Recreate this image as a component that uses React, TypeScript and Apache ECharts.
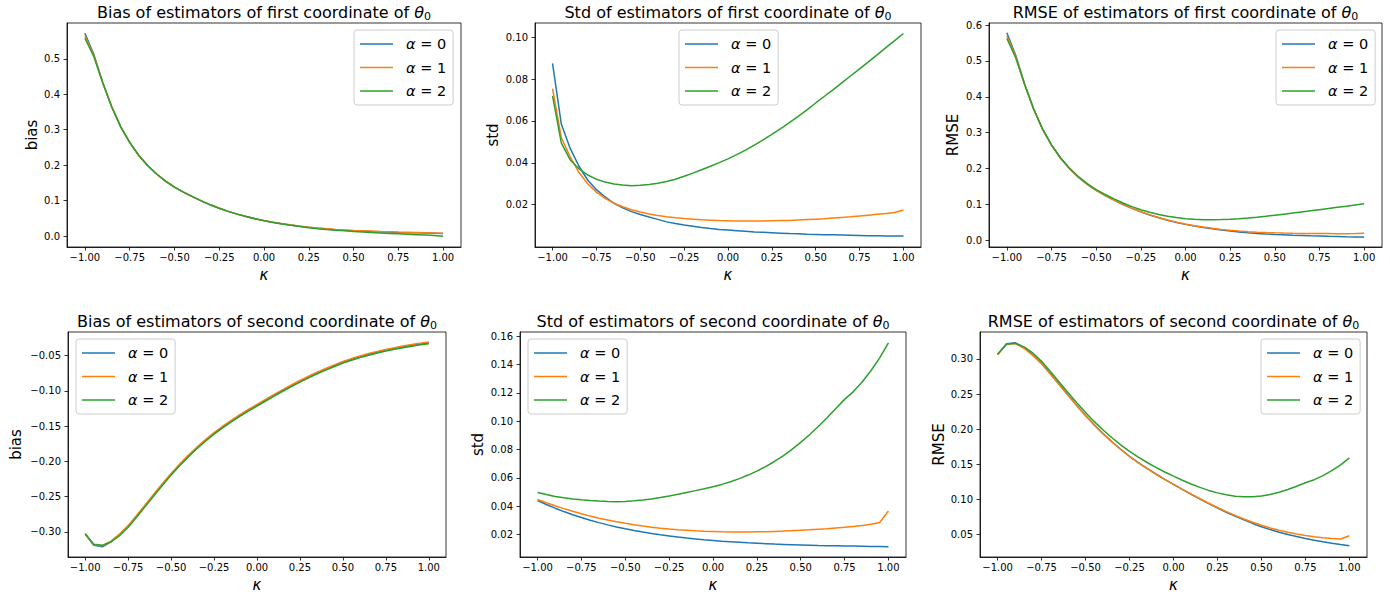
import React, { useEffect, useRef } from "react";
import * as echarts from "echarts";

// kappa grid
const KAPPA = [-1, -0.95, -0.9, -0.85, -0.8, -0.75, -0.7, -0.65, -0.6, -0.55, -0.5, -0.45, -0.4, -0.35, -0.3, -0.25, -0.2, -0.15, -0.1, -0.05, 0, 0.05, 0.1, 0.15, 0.2, 0.25, 0.3, 0.35, 0.4, 0.45, 0.5, 0.55, 0.6, 0.65, 0.7, 0.75, 0.8, 0.85, 0.9, 0.95, 1];

const SERIES_NAMES = ["α = 0", "α = 1", "α = 2"];

// first coordinate: bias
const BIAS1_A0 = [0.572, 0.512, 0.432, 0.364, 0.308, 0.264, 0.228, 0.199, 0.175, 0.155, 0.138, 0.124, 0.111, 0.099, 0.088, 0.0782, 0.0695, 0.0618, 0.055, 0.0489, 0.0434, 0.0387, 0.0345, 0.0308, 0.0275, 0.0244, 0.0219, 0.0196, 0.0178, 0.0164, 0.0151, 0.0140, 0.0129, 0.0119, 0.0110, 0.0102, 0.0095, 0.0089, 0.0083, 0.0077, 0.0070];
const BIAS1_A1 = [0.565, 0.509, 0.432, 0.364, 0.308, 0.264, 0.228, 0.199, 0.175, 0.155, 0.138, 0.124, 0.111, 0.099, 0.088, 0.0782, 0.0695, 0.0618, 0.055, 0.0489, 0.0434, 0.0387, 0.0345, 0.0308, 0.0275, 0.0248, 0.0224, 0.0202, 0.0185, 0.0171, 0.0159, 0.0148, 0.0138, 0.0129, 0.0121, 0.0113, 0.0106, 0.0099, 0.0092, 0.0085, 0.0078];
const BIAS1_A2 = [0.558, 0.506, 0.432, 0.364, 0.308, 0.264, 0.228, 0.199, 0.175, 0.155, 0.138, 0.124, 0.111, 0.099, 0.088, 0.0782, 0.0695, 0.0618, 0.055, 0.0489, 0.0430, 0.0383, 0.0341, 0.0303, 0.0268, 0.0235, 0.0208, 0.0184, 0.0163, 0.0145, 0.0129, 0.0114, 0.0100, 0.0087, 0.0074, 0.0062, 0.0050, 0.0038, 0.0026, 0.0012, -0.0005];

// first coordinate: std
const STD1_A0 = [0.0875, 0.0585, 0.0470, 0.0385, 0.0318, 0.0272, 0.0237, 0.0207, 0.0185, 0.0167, 0.0153, 0.0141, 0.0130, 0.0118, 0.0110, 0.0103, 0.0097, 0.0091, 0.0086, 0.0082, 0.0079, 0.0076, 0.0073, 0.0070, 0.0068, 0.0066, 0.0064, 0.0062, 0.0061, 0.0059, 0.0058, 0.0057, 0.0056, 0.0055, 0.0054, 0.0053, 0.0052, 0.0052, 0.0051, 0.0051, 0.0050];
const STD1_A1 = [0.0755, 0.0520, 0.0430, 0.0355, 0.0300, 0.0260, 0.0230, 0.0207, 0.0190, 0.0176, 0.0165, 0.0156, 0.0149, 0.0143, 0.0138, 0.0134, 0.0131, 0.0128, 0.0126, 0.0124, 0.0123, 0.0122, 0.0122, 0.0122, 0.0122, 0.0123, 0.0124, 0.0125, 0.0127, 0.0129, 0.0131, 0.0133, 0.0136, 0.0139, 0.0142, 0.0146, 0.0150, 0.0154, 0.0158, 0.0163, 0.0175];
const STD1_A2 = [0.0720, 0.0495, 0.0415, 0.0372, 0.0342, 0.0322, 0.0308, 0.0299, 0.0294, 0.0291, 0.0293, 0.0297, 0.0303, 0.0311, 0.0322, 0.0336, 0.0351, 0.0367, 0.0384, 0.0401, 0.0419, 0.0439, 0.0461, 0.0485, 0.0510, 0.0536, 0.0563, 0.0592, 0.0622, 0.0653, 0.0686, 0.0718, 0.0750, 0.0783, 0.0816, 0.0849, 0.0882, 0.0916, 0.0950, 0.0984, 0.1018];

// first coordinate: RMSE
const RMSE1_A0 = [0.5787, 0.5153, 0.4345, 0.3660, 0.3096, 0.2654, 0.2292, 0.2001, 0.1760, 0.1559, 0.1388, 0.1248, 0.1118, 0.0997, 0.0887, 0.0789, 0.0702, 0.0625, 0.0557, 0.0496, 0.0441, 0.0394, 0.0353, 0.0316, 0.0283, 0.0253, 0.0228, 0.0205, 0.0188, 0.0174, 0.0162, 0.0151, 0.0140, 0.0131, 0.0122, 0.0115, 0.0108, 0.0103, 0.0097, 0.0092, 0.0086];
const RMSE1_A1 = [0.5700, 0.5117, 0.4341, 0.3657, 0.3095, 0.2653, 0.2292, 0.2001, 0.1760, 0.1560, 0.1390, 0.1250, 0.1120, 0.1000, 0.0891, 0.0793, 0.0707, 0.0631, 0.0564, 0.0504, 0.0451, 0.0406, 0.0366, 0.0331, 0.0301, 0.0277, 0.0256, 0.0237, 0.0224, 0.0214, 0.0206, 0.0199, 0.0194, 0.0190, 0.0187, 0.0185, 0.0184, 0.0183, 0.0183, 0.0184, 0.0192];
const RMSE1_A2 = [0.5626, 0.5084, 0.4340, 0.3659, 0.3099, 0.2660, 0.2301, 0.2012, 0.1775, 0.1577, 0.1411, 0.1275, 0.1151, 0.1038, 0.0937, 0.0851, 0.0779, 0.0719, 0.0671, 0.0632, 0.0600, 0.0583, 0.0573, 0.0572, 0.0576, 0.0585, 0.0600, 0.0620, 0.0643, 0.0669, 0.0698, 0.0727, 0.0757, 0.0788, 0.0819, 0.0851, 0.0883, 0.0917, 0.0950, 0.0984, 0.1018];

// second coordinate: bias
const BIAS2_A0 = [-0.3030, -0.3190, -0.3210, -0.3140, -0.3040, -0.2920, -0.2774, -0.2624, -0.2473, -0.2324, -0.2181, -0.2047, -0.1923, -0.1808, -0.1701, -0.1601, -0.1511, -0.1427, -0.1348, -0.1273, -0.1202, -0.1130, -0.1060, -0.0992, -0.0926, -0.0863, -0.0803, -0.0746, -0.0692, -0.0641, -0.0593, -0.0552, -0.0515, -0.0481, -0.0450, -0.0422, -0.0397, -0.0374, -0.0353, -0.0334, -0.0317];
const BIAS2_A1 = [-0.3030, -0.3180, -0.3195, -0.3130, -0.3030, -0.2910, -0.2764, -0.2614, -0.2463, -0.2314, -0.2171, -0.2037, -0.1913, -0.1798, -0.1691, -0.1591, -0.1501, -0.1417, -0.1338, -0.1263, -0.1192, -0.1120, -0.1050, -0.0982, -0.0916, -0.0853, -0.0793, -0.0736, -0.0682, -0.0631, -0.0583, -0.0542, -0.0505, -0.0471, -0.0440, -0.0412, -0.0387, -0.0364, -0.0343, -0.0324, -0.0307];
const BIAS2_A2 = [-0.3025, -0.3175, -0.3190, -0.3140, -0.3053, -0.2933, -0.2787, -0.2637, -0.2486, -0.2337, -0.2194, -0.2060, -0.1936, -0.1821, -0.1714, -0.1614, -0.1524, -0.1440, -0.1361, -0.1286, -0.1215, -0.1143, -0.1073, -0.1005, -0.0939, -0.0876, -0.0816, -0.0759, -0.0705, -0.0654, -0.0606, -0.0565, -0.0528, -0.0494, -0.0463, -0.0435, -0.0410, -0.0387, -0.0366, -0.0347, -0.0330];

// second coordinate: std
const STD2_A0 = [0.0440, 0.0412, 0.0386, 0.0362, 0.0340, 0.0320, 0.0301, 0.0284, 0.0268, 0.0253, 0.0240, 0.0228, 0.0217, 0.0207, 0.0198, 0.0190, 0.0182, 0.0175, 0.0169, 0.0163, 0.0158, 0.0153, 0.0149, 0.0145, 0.0141, 0.0138, 0.0135, 0.0132, 0.0130, 0.0128, 0.0126, 0.0124, 0.0122, 0.0121, 0.0120, 0.0119, 0.0118, 0.0117, 0.0116, 0.0115, 0.0114];
const STD2_A1 = [0.0447, 0.0424, 0.0403, 0.0383, 0.0364, 0.0346, 0.0330, 0.0315, 0.0302, 0.0290, 0.0279, 0.0269, 0.0260, 0.0252, 0.0245, 0.0239, 0.0234, 0.0230, 0.0226, 0.0223, 0.0221, 0.0219, 0.0218, 0.0218, 0.0218, 0.0219, 0.0220, 0.0222, 0.0224, 0.0227, 0.0230, 0.0233, 0.0237, 0.0241, 0.0246, 0.0251, 0.0257, 0.0264, 0.0272, 0.0285, 0.0366];
const STD2_A2 = [0.0497, 0.0482, 0.0469, 0.0459, 0.0451, 0.0445, 0.0440, 0.0436, 0.0433, 0.0432, 0.0434, 0.0438, 0.0443, 0.0451, 0.0461, 0.0472, 0.0484, 0.0497, 0.0510, 0.0523, 0.0537, 0.0554, 0.0573, 0.0595, 0.0620, 0.0648, 0.0680, 0.0716, 0.0756, 0.0801, 0.0851, 0.0905, 0.0963, 0.1025, 0.1090, 0.1155, 0.1210, 0.1278, 0.1357, 0.1448, 0.1555];

// second coordinate: RMSE
const RMSE2_A0 = [0.3062, 0.3217, 0.3233, 0.3161, 0.3059, 0.2937, 0.2790, 0.2639, 0.2487, 0.2338, 0.2194, 0.2060, 0.1935, 0.1820, 0.1712, 0.1612, 0.1522, 0.1438, 0.1359, 0.1283, 0.1212, 0.1140, 0.1070, 0.1003, 0.0937, 0.0874, 0.0814, 0.0758, 0.0704, 0.0654, 0.0606, 0.0566, 0.0529, 0.0496, 0.0466, 0.0439, 0.0414, 0.0392, 0.0372, 0.0353, 0.0337];
const RMSE2_A1 = [0.3063, 0.3208, 0.3220, 0.3153, 0.3052, 0.2931, 0.2784, 0.2633, 0.2481, 0.2332, 0.2189, 0.2055, 0.1931, 0.1816, 0.1709, 0.1609, 0.1519, 0.1436, 0.1357, 0.1283, 0.1212, 0.1141, 0.1072, 0.1006, 0.0942, 0.0881, 0.0823, 0.0769, 0.0718, 0.0671, 0.0627, 0.0590, 0.0558, 0.0529, 0.0504, 0.0482, 0.0465, 0.0450, 0.0438, 0.0432, 0.0478];
const RMSE2_A2 = [0.3066, 0.3211, 0.3224, 0.3173, 0.3086, 0.2967, 0.2822, 0.2673, 0.2523, 0.2377, 0.2237, 0.2106, 0.1986, 0.1876, 0.1775, 0.1682, 0.1599, 0.1523, 0.1453, 0.1388, 0.1328, 0.1270, 0.1216, 0.1168, 0.1125, 0.1090, 0.1062, 0.1043, 0.1034, 0.1034, 0.1045, 0.1067, 0.1098, 0.1138, 0.1184, 0.1234, 0.1278, 0.1335, 0.1406, 0.1489, 0.1590];

// tick values
const X_TICKS = [-1, -0.75, -0.5, -0.25, 0, 0.25, 0.5, 0.75, 1];
const Y_TICKS_BIAS1 = [0, 0.1, 0.2, 0.3, 0.4, 0.5];
const Y_TICKS_STD1 = [0.02, 0.04, 0.06, 0.08, 0.1];
const Y_TICKS_RMSE1 = [0, 0.1, 0.2, 0.3, 0.4, 0.5, 0.6];
const Y_TICKS_BIAS2 = [-0.3, -0.25, -0.2, -0.15, -0.1, -0.05];
const Y_TICKS_STD2 = [0.02, 0.04, 0.06, 0.08, 0.1, 0.12, 0.14, 0.16];
const Y_TICKS_RMSE2 = [0.05, 0.1, 0.15, 0.2, 0.25, 0.3];

const COLORS = ["#1f77b4", "#ff7f0e", "#2ca02c"];
const FONT = "DejaVu Sans";

const PANELS = [
  { title: "Bias of estimators of first coordinate of ", ylabel: "bias", data: [BIAS1_A0, BIAS1_A1, BIAS1_A2], yTicks: Y_TICKS_BIAS1, dec: 1, yMin: -0.031, yMax: 0.601, grid: { left: 67, top: 23, width: 394, height: 224 }, legend: { left: 354, top: 30 }, nameGap: 28, titleTop: 0 },
  { title: "Std of estimators of first coordinate of ", ylabel: "std", data: [STD1_A0, STD1_A1, STD1_A2], yTicks: Y_TICKS_STD1, dec: 2, yMin: -0.0002, yMax: 0.1068, grid: { left: 535, top: 23, width: 386, height: 224 }, legend: { left: 679, top: 30 }, nameGap: 35, titleTop: 0 },
  { title: "RMSE of estimators of first coordinate of ", ylabel: "RMSE", data: [RMSE1_A0, RMSE1_A1, RMSE1_A2], yTicks: Y_TICKS_RMSE1, dec: 1, yMin: -0.019, yMax: 0.606, grid: { left: 989, top: 23, width: 393, height: 224 }, legend: { left: 1276, top: 30 }, nameGap: 29, titleTop: 0 },
  { title: "Bias of estimators of second coordinate of ", ylabel: "bias", data: [BIAS2_A0, BIAS2_A1, BIAS2_A2], yTicks: Y_TICKS_BIAS2, dec: 2, yMin: -0.3355, yMax: -0.0165, grid: { left: 68, top: 332, width: 378, height: 225 }, legend: { left: 76, top: 339 }, nameGap: 45, titleTop: 309 },
  { title: "Std of estimators of second coordinate of ", ylabel: "std", data: [STD2_A0, STD2_A1, STD2_A2], yTicks: Y_TICKS_STD2, dec: 2, yMin: 0.0041, yMax: 0.1631, grid: { left: 520, top: 332, width: 386, height: 225 }, legend: { left: 528, top: 339 }, nameGap: 35, titleTop: 309 },
  { title: "RMSE of estimators of second coordinate of ", ylabel: "RMSE", data: [RMSE2_A0, RMSE2_A1, RMSE2_A2], yTicks: Y_TICKS_RMSE2, dec: 2, yMin: 0.0175, yMax: 0.3385, grid: { left: 980, top: 332, width: 387, height: 225 }, legend: { left: 1261, top: 339 }, nameGap: 34, titleTop: 309 },
];

const fmt = (v: number, d: number) => {
  const s = Math.abs(v).toFixed(d);
  return v < -1e-9 ? "\u2212" + s : s;
};

export default function App() {
  const ref = useRef<HTMLDivElement>(null);
  useEffect(() => {
    const chart = echarts.init(ref.current as HTMLDivElement, null, { renderer: "svg" });
    const option: any = {
      animation: false,
      backgroundColor: "#ffffff",
      textStyle: { fontFamily: FONT },
      title: PANELS.map((p) => ({
        text: `{n|${p.title}}{t|θ}{s|0}`,
        left: p.grid.left + p.grid.width / 2,
        top: p.titleTop,
        textAlign: "center",
        padding: 0,
        textStyle: {
          fontWeight: "normal",
          rich: {
            n: { fontFamily: FONT, fontSize: 16, fontWeight: "normal", color: "#000", lineHeight: 20, verticalAlign: "bottom" },
            t: { fontFamily: FONT, fontSize: 16, fontWeight: "normal", fontStyle: "italic", color: "#000", lineHeight: 20, verticalAlign: "bottom" },
            s: { fontFamily: FONT, fontSize: 11, fontWeight: "normal", color: "#000", lineHeight: 20, verticalAlign: "bottom", padding: [0, 0, -2, 0] },
          },
        },
      })),
      grid: PANELS.map((p) => ({ ...p.grid, show: true, borderColor: "#000", borderWidth: 0.8, backgroundColor: "transparent", containLabel: false })),
      xAxis: PANELS.map((p, i) => ({
        type: "value",
        gridIndex: i,
        min: -1.1,
        max: 1.1,
        name: "κ",
        nameLocation: "middle",
        nameGap: 20,
        nameTextStyle: { fontFamily: FONT, fontSize: 15, fontStyle: "italic", color: "#000" },
        axisLine: { show: true, onZero: false, lineStyle: { color: "#000", width: 0.8 } },
        axisTick: { show: true, length: 3.5, inside: false, lineStyle: { color: "#000", width: 0.8 }, customValues: X_TICKS },
        axisLabel: { show: true, fontFamily: FONT, fontSize: 10, color: "#000", margin: 5, customValues: X_TICKS, formatter: (v: number) => fmt(v, 2) },
        splitLine: { show: false },
      })),
      yAxis: PANELS.map((p, i) => ({
        type: "value",
        gridIndex: i,
        min: p.yMin,
        max: p.yMax,
        name: p.ylabel,
        nameLocation: "middle",
        nameGap: p.nameGap,
        nameTextStyle: { fontFamily: FONT, fontSize: 15, color: "#000" },
        axisLine: { show: true, onZero: false, lineStyle: { color: "#000", width: 0.8 } },
        axisTick: { show: true, length: 3.5, inside: false, lineStyle: { color: "#000", width: 0.8 }, customValues: p.yTicks },
        axisLabel: { show: true, fontFamily: FONT, fontSize: 10, color: "#000", margin: 7, customValues: p.yTicks, formatter: (v: number) => fmt(v, p.dec) },
        splitLine: { show: false },
      })),
      legend: PANELS.map((p) => ({
        left: p.legend.left,
        top: p.legend.top,
        orient: "vertical",
        icon: "rect",
        itemWidth: 33,
        itemHeight: 1.5,
        itemGap: 7.5,
        padding: [6, 7, 6, 6],
        borderColor: "#cccccc",
        borderWidth: 1,
        borderRadius: 3,
        backgroundColor: "rgba(255,255,255,0.8)",
        selectedMode: false,
        z: 10,
        data: SERIES_NAMES,
        formatter: (name: string) => `{a|α}{b|${name.slice(1)}}`,
        textStyle: {
          fontFamily: FONT,
          fontSize: 14.5,
          lineHeight: 16,
          color: "#000",
          padding: [0, 0, 0, 8],
          rich: {
            a: { fontFamily: FONT, fontSize: 14.5, fontStyle: "italic", color: "#000", lineHeight: 16 },
            b: { fontFamily: FONT, fontSize: 14.5, color: "#000", lineHeight: 16 },
          },
        },
      })),
      series: PANELS.flatMap((p, i) =>
        p.data.map((arr, j) => ({
          type: "line",
          name: SERIES_NAMES[j],
          xAxisIndex: i,
          yAxisIndex: i,
          data: KAPPA.map((k, idx) => [k, arr[idx]]),
          showSymbol: false,
          symbol: "none",
          smooth: false,
          lineStyle: { color: COLORS[j], width: 1.5 },
          itemStyle: { color: COLORS[j] },
          z: 2 + j,
        }))
      ),
    };
    chart.setOption(option);
    return () => chart.dispose();
  }, []);
  return <div ref={ref} style={{ position: "absolute", left: 0, top: 0, width: 1390, height: 596 }} />;
}
